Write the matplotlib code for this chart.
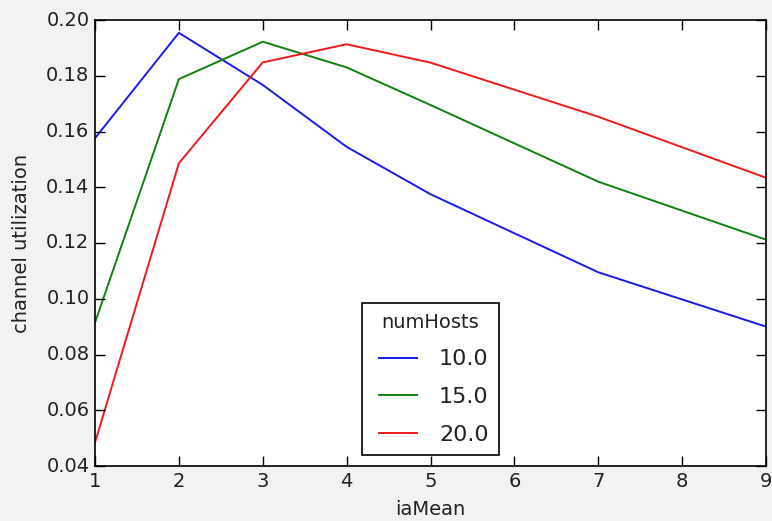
import matplotlib
matplotlib.use("Agg")
import matplotlib.pyplot as plt

plt.style.use('classic')

ia_mean = [1, 2, 3, 4, 5, 7, 9]
host_labels = ["10.0", "15.0", "20.0"]
util_10 = [0.1576, 0.1954, 0.1767, 0.1545, 0.1375, 0.1095, 0.0900]
util_15 = [0.0914, 0.1788, 0.1922, 0.1830, 0.1695, 0.1420, 0.1212]
util_20 = [0.0484, 0.1486, 0.1848, 0.1913, 0.1847, 0.1653, 0.1434]
series = [util_10, util_15, util_20]
colors = ['#1a1aee', '#108010', '#ee1a1a']

fig = plt.figure(figsize=(7.72, 5.21), dpi=100, facecolor='#f2f2f2')
ax = fig.add_axes([95/772, 1 - 466/521, (766-95)/772, (466-20)/521])
ax.set_facecolor('white')

for vals, lab, c in zip(series, host_labels, colors):
    ax.plot(ia_mean, vals, color=c, lw=1.4, label=lab)

ax.set_xlim(1, 9)
ax.set_ylim(0.04, 0.20)
ax.set_xticks(range(1, 10))
ax.set_yticks([0.04, 0.06, 0.08, 0.10, 0.12, 0.14, 0.16, 0.18, 0.20])
ax.set_yticklabels(['0.04', '0.06', '0.08', '0.10', '0.12', '0.14', '0.16', '0.18', '0.20'])
ax.tick_params(labelsize=14, labelcolor='#222222', direction='in', length=7, width=1,
               top=True, right=True, pad=4)
ax.set_xlabel('iaMean', fontsize=14, labelpad=7, color='#222222')
ax.set_ylabel('channel utilization', fontsize=14, labelpad=11, color='#222222')
for sp in ax.spines.values():
    sp.set_linewidth(1.2)

leg = ax.legend(title='numHosts', loc='lower center', fontsize=16, title_fontsize=14,
                handlelength=2.3, borderaxespad=0.5, frameon=True, fancybox=False,
                labelspacing=0.8, handletextpad=0.7, borderpad=0.45)
leg.get_frame().set_edgecolor('black')
leg.get_frame().set_linewidth(1.2)
for t in leg.get_texts():
    t.set_color('#222222')
leg.get_title().set_color('#222222')

fig.savefig('out.png', dpi=100, facecolor=fig.get_facecolor())
